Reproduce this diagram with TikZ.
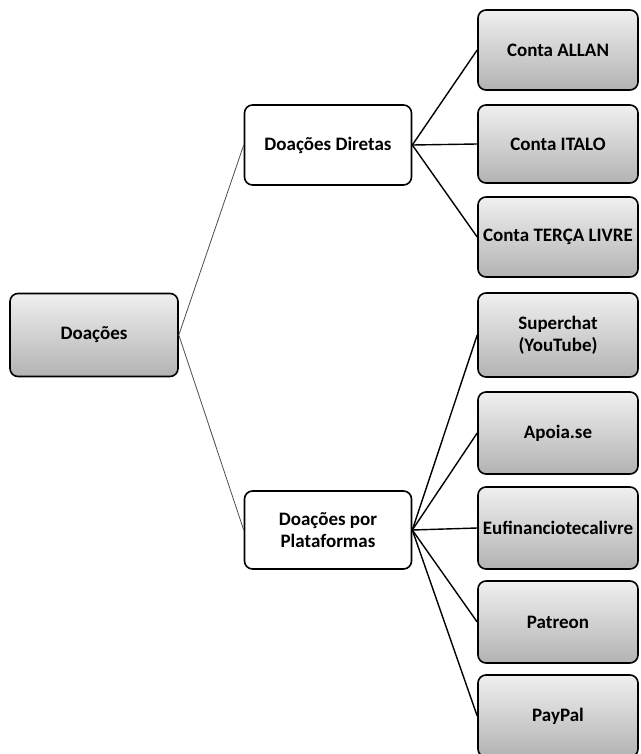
\documentclass[tikz,border=0pt]{standalone}
\usepackage{fontspec}
\setmainfont{Carlito}
\usepackage{tikz}
\usetikzlibrary{positioning}

\begin{document}
\begin{tikzpicture}[
  x=1pt, y=-1pt,
  every node/.style={font=\fontsize{19}{22}\selectfont\bfseries, align=center, inner sep=0pt},
  box/.style={rounded corners=8pt, draw, line width=1.6pt},
  greybox/.style={box, top color=gray!12, bottom color=gray!60},
  whitebox/.style={box, fill=white},
  rootlink/.style={draw=black!70, line width=0.8pt},
  leaflink/.style={draw=black, line width=1.4pt},
]
  \useasboundingbox (0,0) rectangle (640,754);

  % Root
  \node[greybox, minimum width=168pt, minimum height=83pt] (doa) at (94,335) {Doações};

  % Middle level
  \node[whitebox, minimum width=167pt, minimum height=80pt] (dir) at (328,145) {Doações Diretas};
  \node[whitebox, minimum width=167pt, minimum height=78pt] (pla) at (328,530) {Doações por\\Plataformas};

  % Leaves - Diretas
  \node[greybox, minimum width=160pt, minimum height=80pt] (allan) at (558,50) {Conta ALLAN};
  \node[greybox, minimum width=160pt, minimum height=78pt] (italo) at (558,144) {Conta ITALO};
  \node[greybox, minimum width=160pt, minimum height=80pt] (terca) at (558,237) {Conta TERÇA LIVRE};

  % Leaves - Plataformas
  \node[greybox, minimum width=160pt, minimum height=84pt] (sup) at (558,335) {Superchat\\(YouTube)};
  \node[greybox, minimum width=160pt, minimum height=82pt] (apo) at (558,433) {Apoia.se};
  \node[greybox, minimum width=160pt, minimum height=82pt] (euf) at (558,528) {Eufinanciotecalivre};
  \node[greybox, minimum width=160pt, minimum height=82pt] (pat) at (558,622) {Patreon};
  \node[greybox, minimum width=160pt, minimum height=82pt] (pay) at (558,716) {PayPal};

  % Links
  \draw[rootlink] (doa.east) -- (dir.west);
  \draw[rootlink] (doa.east) -- (pla.west);
  \draw[leaflink] (dir.east) -- (allan.west);
  \draw[leaflink] (dir.east) -- (italo.west);
  \draw[leaflink] (dir.east) -- (terca.west);
  \draw[leaflink] (pla.east) -- (sup.west);
  \draw[leaflink] (pla.east) -- (apo.west);
  \draw[leaflink] (pla.east) -- (euf.west);
  \draw[leaflink] (pla.east) -- (pat.west);
  \draw[leaflink] (pla.east) -- (pay.west);
\end{tikzpicture}
\end{document}
